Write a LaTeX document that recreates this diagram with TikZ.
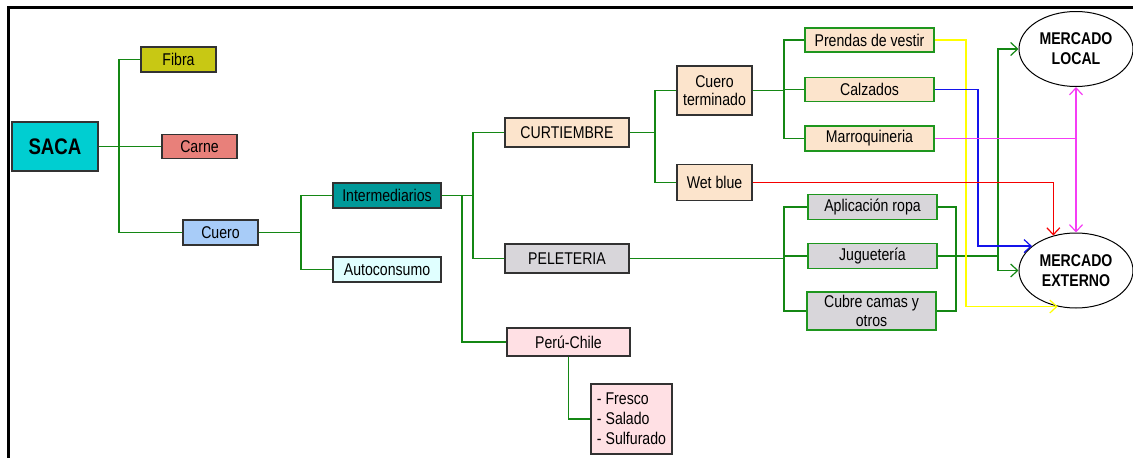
\documentclass[tikz,border=0pt]{standalone}
\usepackage{fontspec}
\setmainfont{Liberation Sans}[FakeStretch=0.83]
\usetikzlibrary{arrows.meta,shapes.geometric}
\definecolor{cSaca}{RGB}{0,206,209}
\definecolor{cFibra}{RGB}{200,200,20}
\definecolor{cCarne}{RGB}{232,128,122}
\definecolor{cCuero}{RGB}{168,204,248}
\definecolor{cInter}{RGB}{0,153,153}
\definecolor{cAuto}{RGB}{224,255,255}
\definecolor{cBisque}{RGB}{252,228,204}
\definecolor{cGris}{RGB}{216,214,218}
\definecolor{cRosa}{RGB}{255,224,228}
\definecolor{cLine}{RGB}{20,135,20}
\definecolor{cBord}{RGB}{50,50,50}
\definecolor{cGBord}{RGB}{30,150,30}
\definecolor{cMag}{RGB}{245,60,245}
\definecolor{cYel}{RGB}{255,255,0}
\definecolor{cBlue}{RGB}{20,20,235}
\definecolor{cRed}{RGB}{245,0,0}
\begin{document}
\begin{tikzpicture}[x=1pt,y=-1pt,
  txt/.style={font=\fontsize{17}{18.7}\selectfont},
  box/.style={draw=cBord, line width=1.2pt, rectangle, inner sep=0pt, align=center, txt},
  gbox/.style={box, draw=cGBord},
  mkt/.style={draw=black, line width=1pt, ellipse, inner sep=0pt, align=center,
    font=\fontsize{17}{20}\selectfont\bfseries, minimum width=114, minimum height=75},
  gl/.style={draw=cLine, line width=1.2pt},
  arr/.style={line width=1.2pt, -{Straight Barb[length=7pt,width=13pt]}}
]
\useasboundingbox (0,0) rectangle (1133,458);
\draw[line width=3pt] (8.5,458) -- (8.5,7.5) -- (1133,7.5);

% nodes
\node[box, fill=cSaca, minimum width=86, minimum height=49,
  font=\fontsize{22.5}{24}\selectfont\bfseries] (saca) at (55,146.5) {SACA};
\node[box, fill=cFibra, minimum width=75, minimum height=25] (fibra) at (178.5,59.5) {Fibra};
\node[box, fill=cCarne, minimum width=75, minimum height=24] (carne) at (199.5,146.5) {Carne};
\node[box, fill=cCuero, minimum width=75, minimum height=25] (cuero) at (220.5,232.5) {Cuero};
\node[box, fill=cInter, minimum width=108, minimum height=25] (inter) at (387,195.5) {Intermediarios};
\node[box, fill=cAuto, minimum width=108, minimum height=25] (auto) at (387,269.5) {Autoconsumo};
\node[box, fill=cBisque, minimum width=124, minimum height=29] (curt) at (567,132.5) {CURTIEMBRE};
\node[box, fill=cBisque, minimum width=75, minimum height=49] (cterm) at (714.5,90.5) {Cuero\\terminado};
\node[box, fill=cBisque, minimum width=75, minimum height=36] (wet) at (714.5,182.5) {Wet blue};
\node[box, fill=cGris, minimum width=124, minimum height=29] (pele) at (567,258.5) {PELETERIA};
\node[box, fill=cRosa, minimum width=123, minimum height=28] (peru) at (568.5,342) {Perú-Chile};
\node[box, fill=cRosa, minimum width=81, minimum height=70, align=left,
  font=\fontsize{17}{20}\selectfont] (fresco) at (631.5,419) {- Fresco\\- Salado\\- Sulfurado\hspace{3pt}};
\node[gbox, fill=cBisque, minimum width=129, minimum height=24] (prendas) at (869.5,40) {Prendas de vestir};
\node[gbox, fill=cBisque, minimum width=129, minimum height=24] (calz) at (869.5,89.5) {Calzados};
\node[gbox, fill=cBisque, minimum width=129, minimum height=25] (marro) at (869.5,138.5) {Marroquineria};
\node[gbox, fill=cGris, minimum width=129, minimum height=25] (apl) at (872.5,207) {Aplicación ropa};
\node[gbox, fill=cGris, minimum width=129, minimum height=25] (jug) at (872.5,256) {Juguetería};
\node[gbox, fill=cGris, minimum width=129, minimum height=38] (cubre) at (871.5,311) {Cubre camas y\\otros};
\node[mkt] (ml) at (1076,49) {MERCADO\\LOCAL};
\node[mkt] (me) at (1076,270.5) {MERCADO\\EXTERNO};

% trunk coordinates
\coordinate (j1) at (119,0);
\coordinate (j2) at (301,0);
\coordinate (j3) at (473,0);
\coordinate (j4) at (462,0);
\coordinate (j5) at (655,0);
\coordinate (j6) at (784,0);
\coordinate (j7) at (956,0);
\coordinate (j8) at (998,0);
\coordinate (j9) at (978,0);
\coordinate (j10) at (966,0);

% green tree connectors
\draw[gl] (saca.east) -- (carne.west);
\draw[gl] (fibra.west) -- (fibra.west -| j1) |- (cuero.west);
\draw[gl] (cuero.east) -- (cuero.east -| j2);
\draw[gl] (inter.west) -- (inter.west -| j2) |- (auto.west);
\draw[gl] (inter.east) -- (inter.east -| j3);
\draw[gl] (curt.west) -- (curt.west -| j3) |- (pele.west);
\draw[gl] (inter.east -| j4) |- (peru.west);
\draw[gl] (peru.south) |- (fresco.west);
\draw[gl] (curt.east) -- (curt.east -| j5);
\draw[gl] (cterm.west) -- (cterm.west -| j5) |- (wet.west);
\draw[gl] (cterm.east) -- (cterm.east -| j6);
\draw[gl] (prendas.west) -- (prendas.west -| j6) |- (marro.west);
\draw[gl] (calz.west) -- (calz.west -| j6);
\draw[gl] (pele.east) -- (pele.east -| j6);
\draw[gl] (apl.west) -- (apl.west -| j6) |- (cubre.west);
\draw[gl] (jug.west) -- (jug.west -| j6);
\draw[gl] (apl.east) -- (apl.east -| j7) |- (cubre.east);
\draw[gl] (jug.east) -- (jug.east -| j8);
\draw[gl, arr] (jug.east -| j8) |- (ml.west);
\draw[gl, arr] (jug.east -| j8) |- (me.west);

% coloured flows to markets
\draw[arr, draw=cYel] (prendas.east) -- (prendas.east -| j10) |- (me.243);
\draw[arr, draw=cBlue] (calz.east) -- (calz.east -| j9) |- (me.151);
\draw[arr, draw=cMag] (marro.east) -| (ml.south);
\draw[arr, draw=cMag] (marro.east -| ml.south) -- (me.north);
\draw[arr, draw=cRed] (wet.east) -| (me.123);
\end{tikzpicture}
\end{document}
